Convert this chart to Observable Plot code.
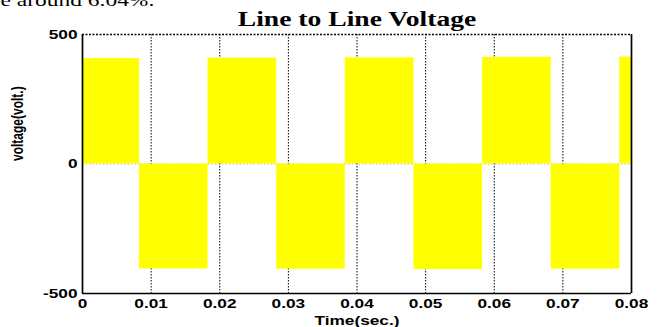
<!DOCTYPE html>
<html><head><meta charset="utf-8">
<script src="https://cdn.jsdelivr.net/npm/d3@7"></script>
<script src="https://cdn.jsdelivr.net/npm/@observablehq/plot@0.6"></script>
<style>html,body{margin:0;padding:0;background:#fff;overflow:hidden}</style>
</head><body><div id="chart"></div>
<script>
// switching instants (s) and line-to-line voltage level (V) of each interval
const edges  = [0, 0.0083, 0.0183, 0.0283, 0.0383, 0.0483, 0.0583, 0.0683, 0.0783, 0.08];
const levels = [407, -405, 409, -406, 410, -407, 412, -406, 413];
const xTicks = [0, 0.01, 0.02, 0.03, 0.04, 0.05, 0.06, 0.07, 0.08];
const xTickLabels = ["0", "0.01", "0.02", "0.03", "0.04", "0.05", "0.06", "0.07", "0.08"];
const gridX = [0.01, 0.02, 0.03, 0.04, 0.05, 0.06, 0.07];
const yTicks = [-500, 0, 500];
const yTickLabels = ["-500", "0", "500"];
const title = "Line to Line Voltage";
const xLabel = "Time(sec.)";
const yLabel = "voltage(volt.)";
const noteText = "e around 6.04%.";

const pulses = levels.map((v, i) => ({t0: edges[i], t1: edges[i + 1], v}));
const K = 1.38; // horizontal stretch of the reference picture

const plot = Plot.plot({
  width: 664, height: 327,
  marginLeft: 82, marginRight: 33, marginTop: 34, marginBottom: 34,
  style: {fontFamily: "'Liberation Sans', Arial, sans-serif", fontSize: "12.5px", fontWeight: "bold", background: "#fff", color: "#000", overflow: "visible"},
  x: {domain: [0, 0.08], ticks: xTicks, tickFormat: d => xTickLabels[xTicks.indexOf(d)], tickSize: 0, tickPadding: 6, label: null},
  y: {domain: [-500, 500], ticks: yTicks, tickFormat: d => yTickLabels[yTicks.indexOf(d)], tickSize: 0, tickPadding: 5, label: null},
  marks: [
    Plot.ruleY([0], {stroke: "#000", strokeOpacity: 0.3, strokeDasharray: "1.5,2"}),
    Plot.ruleX(gridX, {stroke: "#000", strokeWidth: 1, strokeDasharray: "1.5,1.5"}),
    Plot.rect(pulses, {x1: "t0", x2: "t1", y1: 0, y2: "v", fill: "#ffff00"}),
    Plot.ruleY([500], {stroke: "#000", strokeWidth: 1.3, strokeDasharray: "2,1.5"}),
    Plot.ruleX([0, 0.08], {stroke: "#000", strokeWidth: 1.7}),
    Plot.ruleY([-500], {stroke: "#000", strokeWidth: 1.7}),
    Plot.text([title], {frameAnchor: "top", dy: -15, lineAnchor: "middle", fontFamily: "'Liberation Serif', 'Times New Roman', serif", fontSize: 20, fontWeight: "bold"}),
    Plot.text([xLabel], {frameAnchor: "bottom", dy: 27, lineAnchor: "middle", fontSize: 12.5, fontWeight: "bold"}),
    Plot.text([yLabel], {frameAnchor: "left", dx: -65, dy: -3, rotate: -90, lineAnchor: "middle", fontSize: 12, fontWeight: "bold"}),
    Plot.text([noteText], {frameAnchor: "top-left", dx: -82, dy: -33.5, textAnchor: "start", lineAnchor: "middle", fontFamily: "'Liberation Serif', 'Times New Roman', serif", fontSize: 17, fontWeight: "normal"})
  ]
});

document.getElementById("chart").append(plot);
plot.querySelectorAll("text").forEach(t => {
  if (t.textContent === yLabel) {
    // rotated label: the picture's horizontal stretch widens its glyphs
    const tr = t.getAttribute("transform") || "";
    t.setAttribute("transform", tr + " scale(1," + K + ")");
    return;
  }
  const len = t.getComputedTextLength();
  t.setAttribute("textLength", (len * K).toFixed(1));
  t.setAttribute("lengthAdjust", "spacingAndGlyphs");
});
</script>
</body></html>
